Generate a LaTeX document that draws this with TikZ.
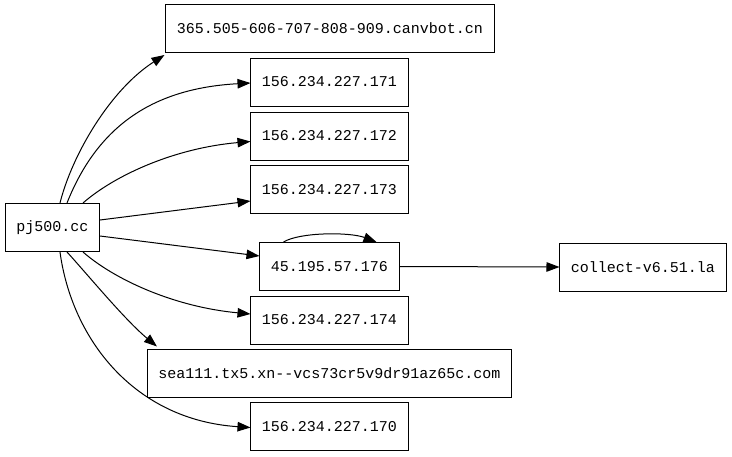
\documentclass[tikz,border=0pt]{standalone}
\usepackage{fontspec}
\usepackage{xcolor}
\usepackage{tikz}
\usetikzlibrary{arrows.meta}
\setmonofont{Liberation Mono}

\tikzset{
  hostbox/.style={draw=drawColor,line width=1pt,minimum height=48pt,inner xsep=11pt,
    font=\ttfamily\fontsize{15}{18}\selectfont},
  link/.style={draw=drawColor,line width=1pt,-{Triangle[length=13pt,width=9.5pt]}}
}

\begin{document}
\begin{tikzpicture}[x=1pt,y=-1pt]
\definecolor{fillColor}{RGB}{255,255,255}
\definecolor{drawColor}{RGB}{0,0,0}
\path[use as bounding box,fill=fillColor] (0,0) rectangle (732,456);

\node[hostbox] (pj) at ( 52.5,227.5) {pj500.cc};

\node[hostbox] (canv) at (330.0, 28.5) {365.505-606-707-808-909.canvbot.cn};
\node[hostbox] (ip171) at (329.5, 82.0) {156.234.227.171};
\node[hostbox] (ip172) at (329.5,136.0) {156.234.227.172};
\node[hostbox] (ip173) at (329.5,189.5) {156.234.227.173};
\node[hostbox] (ip176) at (329.5,266.5) {45.195.57.176};
\node[hostbox] (ip174) at (329.5,320.0) {156.234.227.174};
\node[hostbox] (sea) at (329.5,373.0) {sea111.tx5.xn--vcs73cr5v9dr91az65c.com};
\node[hostbox] (ip170) at (329.5,426.5) {156.234.227.170};
\node[hostbox] (coll) at (643.0,267.0) {collect-v6.51.la};

\path[link] ([xshift=55pt]pj.north west) .. controls ( 72,155) and (110, 90) .. ([xshift=-1pt,yshift=-2pt]canv.south west);
\path[link] ([xshift=62pt]pj.north west) .. controls (100,120) and (160, 88) .. ([yshift=-1pt]ip171.west);
\path[link] ([xshift=78pt]pj.north west) .. controls (115,175) and (175,148) .. ([yshift=-5.5pt]ip172.west);
\path[link] ([yshift=7.5pt]pj.east) -- ([yshift=-11.5pt]ip173.west);
\path[link] ([yshift=-8.5pt]pj.east) -- ([yshift=10.5pt]ip176.west);
\path[link] ([xshift=78pt]pj.south west) .. controls (115,280) and (175,307) .. ([yshift=6pt]ip174.west);
\path[link] ([xshift=62pt]pj.south west) .. controls ( 88,275) and (125,320) .. ([xshift=10pt,yshift=2pt]sea.north west);
\path[link] ([xshift=55pt]pj.south west) .. controls ( 72,340) and (135,420) .. ([yshift=-1pt]ip170.west);

\path[link] ([xshift=-46pt]ip176.north) .. controls (300,232) and (350,232) .. ([xshift=47pt]ip176.north);
\path[link] (ip176.east) -- (coll.west);
\end{tikzpicture}
\end{document}
